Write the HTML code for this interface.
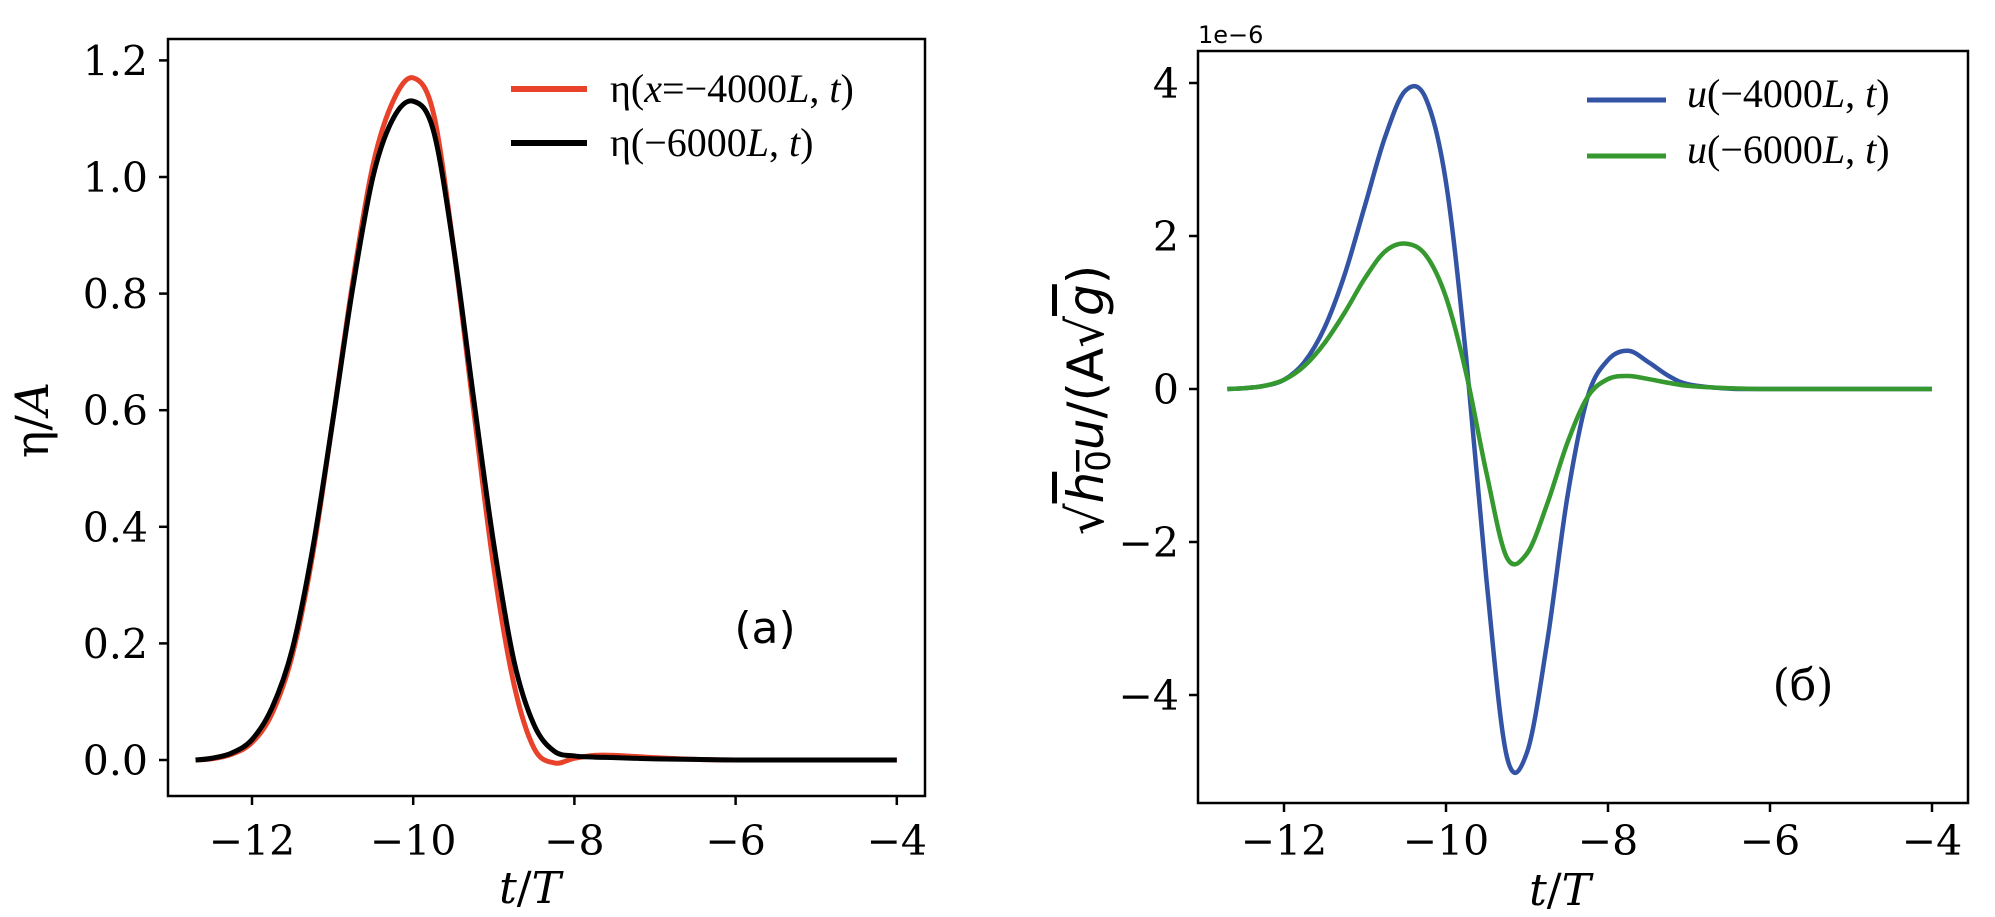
<!DOCTYPE html>
<html><head><meta charset="utf-8">
<style>
html,body{margin:0;padding:0;background:#fff;}
svg{display:block;}
text{font-family:"DejaVu Serif","Liberation Serif",serif;fill:#000;}
</style></head>
<body>
<svg id="chart" width="1995" height="917" viewBox="0 0 1995 917" xmlns="http://www.w3.org/2000/svg">
<g id="pa"></g>
<g id="pb"></g>
</svg>
<script>
// Panel (a) data
const tA = [-12.7,-12.5,-12.25,-12,-11.75,-11.5,-11.25,-11,-10.75,-10.5,-10.25,-10,-9.75,-9.5,-9.25,-9,-8.75,-8.5,-8.25,-8,-7.75,-7.5,-7,-6.5,-6,-5,-4];
const etaRed = [0,0.002,0.01,0.03,0.08,0.18,0.35,0.58,0.82,1.02,1.13,1.17,1.11,0.88,0.6,0.33,0.13,0.02,-0.005,0.003,0.008,0.008,0.004,0.001,0,0,0];
const etaBlack = [0,0.003,0.012,0.035,0.09,0.19,0.36,0.58,0.81,1.0,1.1,1.13,1.08,0.88,0.62,0.37,0.17,0.06,0.015,0.007,0.005,0.004,0.002,0.001,0,0,0];
const xTicksA = [-12,-10,-8,-6,-4];
const yTicksA = [0.0,0.2,0.4,0.6,0.8,1.0,1.2];
const yTickLabelsA = ["0.0","0.2","0.4","0.6","0.8","1.0","1.2"];
// Panel (б) data (units 1e-6)
const tB = [-12.7,-12.5,-12.25,-12,-11.75,-11.5,-11.25,-11,-10.75,-10.5,-10.25,-10,-9.75,-9.5,-9.25,-9,-8.75,-8.5,-8.25,-8,-7.75,-7.5,-7.25,-7,-6.5,-6,-5,-4];
const uBlue = [0,0.01,0.04,0.12,0.35,0.8,1.5,2.4,3.3,3.9,3.8,2.7,0.4,-2.5,-4.8,-4.75,-3.3,-1.4,-0.1,0.38,0.5,0.35,0.17,0.06,0.005,0,0,0];
const uGreen = [0,0.01,0.04,0.12,0.3,0.6,1.0,1.45,1.8,1.9,1.75,1.2,0.2,-1.1,-2.2,-2.15,-1.5,-0.7,-0.1,0.13,0.17,0.13,0.08,0.04,0.01,0,0,0];
const xTicksB = [-12,-10,-8,-6,-4];
const yTicksB = [-4,-2,0,2,4];
const yTickLabelsB = ["\u22124","\u22122","0","2","4"];

const NS="http://www.w3.org/2000/svg";
const LEGFONT='font-family:"Liberation Serif",serif;font-size:40px;';
function mk(parent,tag,attrs,txt){const e=document.createElementNS(NS,tag);for(const k in attrs)e.setAttribute(k,attrs[k]);if(txt!==undefined)e.textContent=txt;parent.appendChild(e);return e;}
function smooth(xs,ys,sx,sy){
  const P=xs.map((x,i)=>[sx(x),sy(ys[i])]);
  let d="M"+P[0][0].toFixed(2)+","+P[0][1].toFixed(2);
  for(let i=0;i<P.length-1;i++){
    const p0=P[i-1]||P[i],p1=P[i],p2=P[i+1],p3=P[i+2]||P[i+1];
    const c1=[p1[0]+(p2[0]-p0[0])/6,p1[1]+(p2[1]-p0[1])/6];
    const c2=[p2[0]-(p3[0]-p1[0])/6,p2[1]-(p3[1]-p1[1])/6];
    d+="C"+c1[0].toFixed(2)+","+c1[1].toFixed(2)+" "+c2[0].toFixed(2)+","+c2[1].toFixed(2)+" "+p2[0].toFixed(2)+","+p2[1].toFixed(2);
  }
  return d;
}
function fmt(v){return (v<0?"\u2212":"")+Math.abs(v);}

// ---------- Panel A ----------
(function(){
  const g=document.getElementById('pa');
  const L=168,R=925,T=39,B=796;
  const sx=t=>252+(t+12)*80.6;
  const sy=v=>760-v*583;
  let e;
  e=mk(g,'rect',{x:L,y:T,width:R-L,height:B-T,fill:'none',stroke:'#000','stroke-width':2.5});
  
  
  xTicksA.forEach(t=>{
    e=mk(g,'line',{x1:sx(t),x2:sx(t),y1:B,y2:B+9,stroke:'#000','stroke-width':2.5});
    
    
    e=mk(g,'text',{x:sx(t),y:855,'text-anchor':'middle','font-size':41},fmt(t));
    
    
  });
  yTicksA.forEach((v,i)=>{
    e=mk(g,'line',{x1:L-9,x2:L,y1:sy(v),y2:sy(v),stroke:'#000','stroke-width':2.5});
    
    
    e=mk(g,'text',{x:148,y:sy(v)+15,'text-anchor':'end','font-size':41},yTickLabelsA[i]);
    
    
  });
  e=mk(g,'path',{d:smooth(tA,etaRed,sx,sy),fill:'none',stroke:'#e8432a','stroke-width':5,'stroke-linejoin':'round'});
  
  
  e=mk(g,'path',{d:smooth(tA,etaBlack,sx,sy),fill:'none',stroke:'#000','stroke-width':5,'stroke-linejoin':'round'});
  
  
  e=mk(g,'line',{x1:511,x2:587,y1:89,y2:89,stroke:'#e8432a','stroke-width':6});
  
  
  e=mk(g,'line',{x1:511,x2:587,y1:143,y2:143,stroke:'#000','stroke-width':6});
  
  
  e=mk(g,'text',{x:610,y:102,style:LEGFONT});
  e.innerHTML='η(<tspan font-style="italic">x</tspan>=−4000<tspan font-style="italic">L</tspan>, <tspan font-style="italic">t</tspan>)';
  
  
  e=mk(g,'text',{x:610,y:156,style:LEGFONT});
  e.innerHTML='η(−6000<tspan font-style="italic">L</tspan>, <tspan font-style="italic">t</tspan>)';
  
  
  e=mk(g,'text',{x:765,y:643,'text-anchor':'middle','font-size':44,style:'font-family:"DejaVu Sans",sans-serif'},'(a)');
  
  
  e=mk(g,'text',{x:530,y:903,'text-anchor':'middle','font-size':44});
  e.innerHTML='<tspan font-style="italic">t</tspan>/<tspan font-style="italic">T</tspan>';
  
  
  e=mk(g,'text',{x:0,y:0,'text-anchor':'middle','font-size':46,transform:'translate(48,420) rotate(-90)'});
  e.innerHTML='η/<tspan font-style="italic">A</tspan>';
  
  
})();

// ---------- Panel B ----------
(function(){
  const g=document.getElementById('pb');
  const L=1198,R=1968,T=51,B=803;
  const sx=t=>1284+(t+12)*81;
  const sy=v=>389-v*76.5;
  let e;
  e=mk(g,'rect',{x:L,y:T,width:R-L,height:B-T,fill:'none',stroke:'#000','stroke-width':2.5});
  
  
  xTicksB.forEach(t=>{
    e=mk(g,'line',{x1:sx(t),x2:sx(t),y1:B,y2:B+9,stroke:'#000','stroke-width':2.5});
    
    
    e=mk(g,'text',{x:sx(t),y:855,'text-anchor':'middle','font-size':41},fmt(t));
    
    
  });
  yTicksB.forEach((v,i)=>{
    e=mk(g,'line',{x1:L-9,x2:L,y1:sy(v),y2:sy(v),stroke:'#000','stroke-width':2.5});
    
    
    e=mk(g,'text',{x:1179,y:sy(v)+15,'text-anchor':'end','font-size':41},yTickLabelsB[i]);
    
    
  });
  e=mk(g,'text',{x:1198,y:43,'font-size':24,style:'font-family:"DejaVu Sans",sans-serif'},'1e\u22126');
  
  
  e=mk(g,'path',{d:smooth(tB,uBlue,sx,sy),fill:'none',stroke:'#3353a4','stroke-width':4.5,'stroke-linejoin':'round'});
  
  
  e=mk(g,'path',{d:smooth(tB,uGreen,sx,sy),fill:'none',stroke:'#35992f','stroke-width':4.5,'stroke-linejoin':'round'});
  
  
  e=mk(g,'line',{x1:1587,x2:1666,y1:100,y2:100,stroke:'#3353a4','stroke-width':5});
  
  
  e=mk(g,'line',{x1:1587,x2:1666,y1:156,y2:156,stroke:'#35992f','stroke-width':5});
  
  
  e=mk(g,'text',{x:1687,y:107,style:LEGFONT});
  e.innerHTML='<tspan font-style="italic">u</tspan>(−4000<tspan font-style="italic">L</tspan>, <tspan font-style="italic">t</tspan>)';
  
  
  e=mk(g,'text',{x:1687,y:163,style:LEGFONT});
  e.innerHTML='<tspan font-style="italic">u</tspan>(−6000<tspan font-style="italic">L</tspan>, <tspan font-style="italic">t</tspan>)';
  
  
  e=mk(g,'text',{x:1803,y:700,'text-anchor':'middle','font-size':44},'(б)');
  
  
  e=mk(g,'text',{x:1560,y:905,'text-anchor':'middle','font-size':44});
  e.innerHTML='<tspan font-style="italic">t</tspan>/<tspan font-style="italic">T</tspan>';
  
  
  e=mk(g,'text',{x:0,y:0,'text-anchor':'middle','font-size':50,style:'font-family:"DejaVu Sans",sans-serif',transform:'translate(1103,400) rotate(-90)'});
  e.innerHTML='√<tspan text-decoration="overline" font-style="italic">h</tspan><tspan font-size="34" dy="7" text-decoration="overline">0</tspan><tspan dy="-7" font-style="italic">u</tspan>/(A√<tspan font-style="italic" text-decoration="overline">g</tspan>)';
  
  
})();
</script>
</body></html>
